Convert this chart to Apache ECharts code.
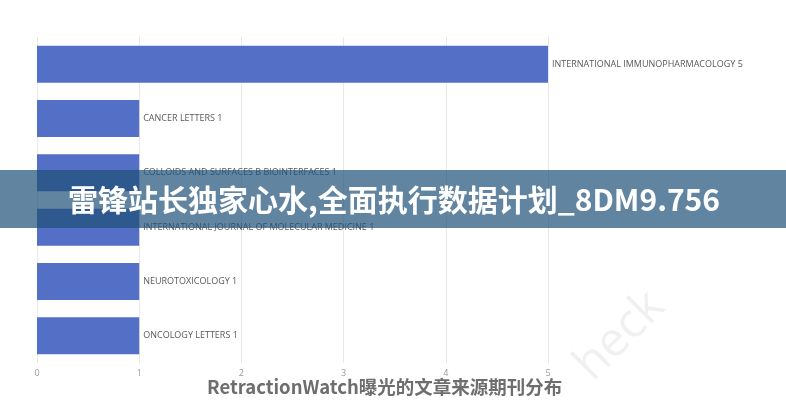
<!DOCTYPE html>
<html>
<head>
<meta charset="utf-8">
<script src="https://cdn.jsdelivr.net/npm/echarts@6/dist/echarts.min.js"></script>
<style>html,body{margin:0;padding:0;background:#fff}#c{width:786px;height:400px}</style>
</head>
<body>
<div id="c"></div>
<script>
const categories = [
  'INTERNATIONAL IMMUNOPHARMACOLOGY',
  'CANCER LETTERS',
  'COLLOIDS AND SURFACES B BIOINTERFACES',
  'INTERNATIONAL JOURNAL OF MOLECULAR MEDICINE',
  'NEUROTOXICOLOGY',
  'ONCOLOGY LETTERS'
];
const counts = [5, 1, 1, 1, 1, 1];
const xTicks = [0, 1, 2, 3, 4, 5];
const titleText = 'RetractionWatch曝光的文章来源期刊分布';
const bannerText = '雷锋站长独家心水,全面执行数据计划_8DM9.756';
const watermarkText = 'heck';

const chart = echarts.init(document.getElementById('c'));
chart.setOption({
  animation: false,
  backgroundColor: '#fff',
  title: {
    text: titleText,
    left: 202,
    top: 373,
    textStyle: { fontSize: 18.5, fontWeight: 'bold', color: '#6e6e6e', fontFamily: 'Noto Sans CJK SC' }
  },
  grid: { left: 37, right: 238, top: 37, bottom: 37, containLabel: false },
  xAxis: {
    type: 'value',
    min: xTicks[0],
    max: xTicks[xTicks.length - 1],
    interval: 1,
    axisLine: { show: false },
    axisTick: { show: false },
    splitLine: { show: true, lineStyle: { color: '#e8e8e8', width: 1 } },
    axisLabel: { color: '#9a9a9a', fontSize: 9, margin: 6, fontFamily: 'Open Sans' }
  },
  yAxis: {
    type: 'category',
    data: categories,
    inverse: true,
    axisLine: { show: false },
    axisTick: { show: false },
    axisLabel: { show: false },
    splitLine: { show: false }
  },
  series: [{
    type: 'bar',
    data: counts,
    barCategoryGap: '32%',
    itemStyle: { color: '#5470c6' },
    label: {
      show: true,
      position: 'right',
      distance: 4,
      formatter: '{b} {c}',
      color: '#5a5a5a',
      fontSize: 9,
      fontFamily: 'Open Sans'
    }
  }],
  graphic: [
    {
      type: 'text',
      left: 566,
      top: 282,
      rotation: Math.PI / 4,
      style: { text: watermarkText, fontSize: 48, fill: 'rgba(0,0,0,0.06)', fontFamily: 'Open Sans' },
      z: 50
    },
    {
      type: 'rect',
      shape: { x: 0, y: 170, width: 786, height: 58 },
      style: { fill: 'rgba(30,80,120,0.7)' },
      z: 100
    },
    {
      type: 'text',
      x: 394,
      y: 200,
      style: {
        text: bannerText,
        fill: '#fff',
        fontSize: 30,
        fontWeight: 'bold',
        fontFamily: 'Noto Sans CJK SC',
        align: 'center',
        verticalAlign: 'middle'
      },
      z: 101
    }
  ]
});
</script>
</body>
</html>
